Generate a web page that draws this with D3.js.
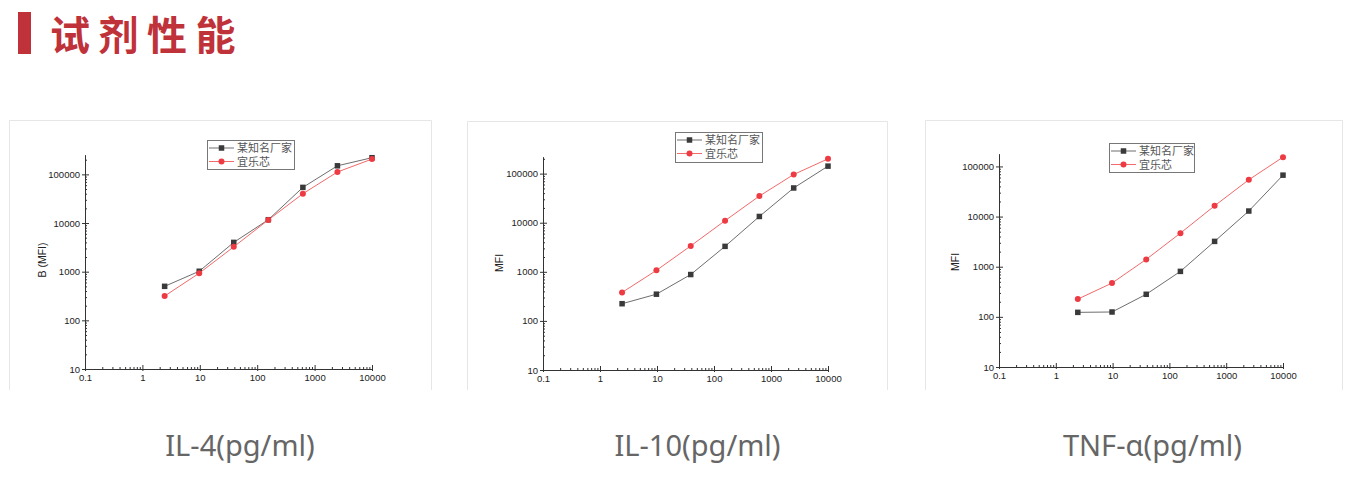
<!DOCTYPE html>
<html><head><meta charset="utf-8">
<script src="https://cdn.jsdelivr.net/npm/d3@7/dist/d3.min.js"></script>
<style>
html,body{margin:0;padding:0;background:#fff;}
svg{display:block;}
</style></head>
<body>
<svg id="c" width="1356" height="480"></svg>
<script>
// ---- data ----
const concentrations = [2.44, 9.77, 39.06, 156.25, 625, 2500, 10000];
const seriesNames = ["某知名厂家", "宜乐芯"];
const il4_brand = [500, 1020, 4000, 11700, 54000, 150000, 220000];
const il4_ylx   = [316, 930, 3240, 11600, 40000, 112000, 206000];
const il10_brand = [224, 350, 880, 3300, 13400, 51000, 142000];
const il10_ylx   = [380, 1070, 3370, 11000, 34900, 96000, 200000];
const tnf_brand = [123, 125, 282, 807, 3200, 12900, 67000];
const tnf_ylx   = [226, 472, 1400, 4670, 16400, 54200, 153000];
const xTickValues = [0.1, 1, 10, 100, 1000, 10000];
const yTickValues = [10, 100, 1000, 10000, 100000];
const chartTitles = ["IL-4(pg/ml)", "IL-10(pg/ml)", "TNF-α(pg/ml)"];
const yAxisTitles = ["B (MFI)", "MFI", "MFI"];
const pageTitle = "试剂性能";

// ---- layout ----
const svg = d3.select("#c");
const RED = "#c0323a";
svg.append("rect").attr("x",18).attr("y",12).attr("width",13).attr("height",42).attr("fill",RED);
svg.append("text").attr("x",50).attr("y",50).text(pageTitle)
  .attr("font-family","'Noto Sans CJK SC'").attr("font-weight","bold")
  .attr("font-size",40).attr("letter-spacing",8.5).attr("fill",RED);

const charts = [
  {panel:[9,432,120,390], x:[85,372], y:[369,155], ymax:250000, legend:[207,140,87,29], ylab:[42,260], label:240,
   s:[il4_brand, il4_ylx]},
  {panel:[467,888,121,390], x:[543,828], y:[370,157], ymax:218000, legend:[675,132,87,30], ylab:[499,263], label:697.5,
   s:[il10_brand, il10_ylx]},
  {panel:[925,1343,120,390], x:[999,1283], y:[367,154], ymax:177000, legend:[1109,143,85,29], ylab:[955,262], label:1152.5,
   s:[tnf_brand, tnf_ylx]},
];

const styles = [
  {line:"#6e6e6e", fill:"#3a3a3a", shape:"square"},
  {line:"#f26a6a", fill:"#ee3a42", shape:"circle"}
];

function minorTicks(lo, hi){
  const out=[];
  for(let e=Math.floor(Math.log10(lo)); e<=Math.ceil(Math.log10(hi)); e++){
    for(let m=2;m<=9;m++){const v=m*Math.pow(10,e); if(v>=lo*0.999 && v<=hi*1.001) out.push(v);}
  }
  return out;
}

charts.forEach((c,i)=>{
  const [px0,px1,py0,py1]=c.panel;
  const g = svg.append("g");
  g.append("path").attr("d",`M${px0+0.5},${py1}V${py0+0.5}H${px1-0.5}V${py1}`)
    .attr("fill","none").attr("stroke","#e6e6e6").attr("stroke-width",1);

  const x = d3.scaleLog().domain([0.1,10000]).range(c.x);
  const y = d3.scaleLog().domain([10,c.ymax]).range(c.y);
  const font = "'Liberation Sans', Arial, sans-serif";

  const xa = g.append("g").attr("transform",`translate(0,${c.y[0]})`);
  xa.call(d3.axisBottom(x).tickValues(xTickValues).tickFormat(d=>String(d)).tickSizeInner(2).tickSizeOuter(0).tickPadding(3));
  xa.selectAll("text").attr("font-family",font).attr("font-size",9.5).attr("fill","#222");
  const xa2 = g.append("g").attr("transform",`translate(0,${c.y[0]})`);
  xa2.call(d3.axisBottom(x).tickValues(xTickValues).tickFormat("").tickSizeInner(-4).tickSizeOuter(0));
  const xa3 = g.append("g").attr("transform",`translate(0,${c.y[0]})`);
  xa3.call(d3.axisBottom(x).tickValues(minorTicks(0.1,10000)).tickFormat("").tickSizeInner(-2).tickSizeOuter(0));

  const ya = g.append("g").attr("transform",`translate(${c.x[0]},0)`);
  ya.call(d3.axisLeft(y).tickValues(yTickValues).tickFormat(d=>String(d)).tickSizeInner(3).tickSizeOuter(0).tickPadding(2));
  ya.selectAll("text").attr("font-family",font).attr("font-size",9.5).attr("fill","#222");
  const ya2 = g.append("g").attr("transform",`translate(${c.x[0]},0)`);
  ya2.call(d3.axisLeft(y).tickValues(yTickValues).tickFormat("").tickSizeInner(-4).tickSizeOuter(0));
  const ya3 = g.append("g").attr("transform",`translate(${c.x[0]},0)`);
  ya3.call(d3.axisLeft(y).tickValues(minorTicks(10,c.ymax)).tickFormat("").tickSizeInner(-2).tickSizeOuter(0));

  g.selectAll(".domain, .tick line").attr("stroke","#333").attr("stroke-width",1);

  g.append("text").attr("transform",`translate(${c.ylab[0]+4},${c.ylab[1]}) rotate(-90)`)
    .attr("text-anchor","middle").attr("font-family",font).attr("font-size",10.5).attr("fill","#222")
    .text(yAxisTitles[i]);

  const line = d3.line().x((d,k)=>x(concentrations[k])).y(d=>y(d));
  c.s.forEach((vals,si)=>{
    const st=styles[si];
    g.append("path").attr("d",line(vals)).attr("fill","none").attr("stroke",st.line).attr("stroke-width",1);
    vals.forEach((v,k)=>{
      if(st.shape==="square"){
        g.append("rect").attr("x",x(concentrations[k])-2.75).attr("y",y(v)-2.75).attr("width",5.5).attr("height",5.5).attr("fill",st.fill);
      } else {
        g.append("circle").attr("cx",x(concentrations[k])).attr("cy",y(v)).attr("r",3).attr("fill",st.fill);
      }
    });
  });

  const [lx,ly,lw,lh]=c.legend;
  g.append("rect").attr("x",lx+0.5).attr("y",ly+0.5).attr("width",lw).attr("height",lh)
    .attr("fill","#fff").attr("stroke","#777").attr("stroke-width",1);
  seriesNames.forEach((n,si)=>{
    const st=styles[si];
    const cy = ly+8+si*13.5;
    g.append("line").attr("x1",lx+2).attr("x2",lx+27).attr("y1",cy).attr("y2",cy).attr("stroke",st.line).attr("stroke-width",1);
    if(st.shape==="square") g.append("rect").attr("x",lx+14.5-2.75).attr("y",cy-2.75).attr("width",5.5).attr("height",5.5).attr("fill",st.fill);
    else g.append("circle").attr("cx",lx+14.5).attr("cy",cy).attr("r",3).attr("fill",st.fill);
    g.append("text").attr("x",lx+30).attr("y",cy+4).text(n)
      .attr("font-family","'Noto Sans CJK SC'").attr("font-size",11).attr("fill","#555");
  });

  svg.append("text").attr("x",c.label).attr("y",456).attr("text-anchor","middle").text(chartTitles[i])
    .attr("font-family","'Noto Sans', 'Noto Sans CJK SC', sans-serif").attr("font-size",29).attr("fill","#666");
});
</script>
</body></html>
